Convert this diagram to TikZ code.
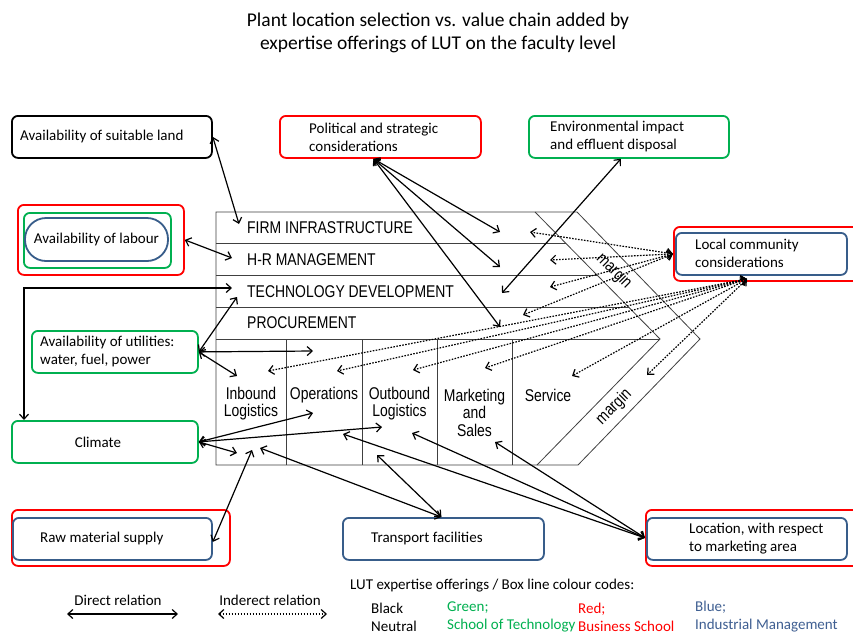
\documentclass[tikz,border=0pt]{standalone}
\usepackage{fontspec}
\setmainfont{Carlito}
\newfontfamily\vcfont[FakeStretch=0.82]{Liberation Sans}
\usetikzlibrary{arrows.meta,calc}
\definecolor{cRed}{RGB}{255,0,0}
\definecolor{cGreen}{RGB}{0,176,80}
\definecolor{cBlue}{RGB}{56,93,138}
\definecolor{cBlueT}{RGB}{63,95,146}
\begin{document}
\begin{tikzpicture}[x=1pt,y=-1pt,
  bx/.style={draw=#1, line width=1.8pt, rounded corners=6pt, anchor=north west, inner sep=0pt},
  txt/.style={font=\fontsize{15}{18}\selectfont, align=left, inner sep=0pt, anchor=west},
  lg/.style={font=\fontsize{15}{18}\selectfont, align=left, inner sep=0pt, anchor=west},
  dir/.style={line width=1.2pt, {Straight Barb[length=5pt,width=9pt]}-{Straight Barb[length=5pt,width=9pt]}},
  ind/.style={dir, dash pattern=on 1.6pt off 1.4pt},
  vc/.style={line width=0.8pt, draw=black!75},
  vcl/.style={font=\vcfont\fontsize{17}{17.5}\selectfont, align=center, inner sep=0pt},
  mg/.style={font=\vcfont\fontsize{17}{18}\selectfont, inner sep=0pt}
]
\clip (0,0) rectangle (853,635);
\fill[white] (0,0) rectangle (853,635);

% title
\node[font=\fontsize{19.5}{23}\selectfont, align=center] (title) at (438,33)
  {Plant location selection vs. value chain added by\\expertise offerings of LUT on the faculty level};

% value chain frame
\draw[vc] (216,212) -- (577,212) -- (700,339) -- (578,465) -- (216,465) -- cycle;
\draw[vc] (535,212) -- (660,339) -- (537,465);
\draw[vc] (216,243.5) -- (566,243.5);
\draw[vc] (216,275) -- (597,275);
\draw[vc] (216,307) -- (628.5,307);
\draw[vc] (216,339) -- (660,339);
\foreach \cx in {286,362,437,512} \draw[vc] (\cx,339) -- (\cx,465);

\node[vcl, anchor=west] (fi) at (247,228) {FIRM INFRASTRUCTURE};
\node[vcl, anchor=west] (hr) at (247,260) {H-R MANAGEMENT};
\node[vcl, anchor=west] (td) at (247,292) {TECHNOLOGY DEVELOPMENT};
\node[vcl, anchor=west] (pr) at (247,323) {PROCUREMENT};
\node[vcl] (ib) at (251,403.5) {Inbound\\Logistics};
\node[vcl] (op) at (324,395) {Operations};
\node[vcl] (ob) at (399.5,403.5) {Outbound\\Logistics};
\node[vcl] (mk) at (474.5,412.5) {Marketing\\and\\Sales};
\node[vcl] (sv) at (548,395) {Service};
\node[mg, rotate=-45] (m1) at (614,271) {margin};
\node[mg, rotate=45] (m2) at (614,407) {margin};

% boxes
\node[bx=black, minimum width=200pt, minimum height=42pt] (land) at (11,115) {};
\node[txt] (landT) at ([xshift=9pt]land.west) {Availability of suitable land};

\node[bx=cRed, minimum width=166pt, minimum height=70pt] (labR) at (17,204) {};
\node[bx=cGreen, minimum width=147pt, minimum height=55pt] (labG) at (23,212) {};
\node[draw=cBlue, line width=1.8pt, rounded corners=21pt, minimum width=143pt, minimum height=43pt, inner sep=0pt, font=\fontsize{15}{18}\selectfont] (lab) at (96.5,239.5) {Availability of labour};

\node[bx=cRed, minimum width=201pt, minimum height=42pt] (pol) at (279,115) {};
\node[txt] (polT) at ([xshift=30pt]pol.west) {Political and strategic\\considerations};

\node[bx=cGreen, minimum width=200pt, minimum height=42pt] (env) at (528,115) {};
\node[txt] (envT) at ([xshift=22pt]env.west) {Environmental impact\\and effluent disposal};

\node[bx=cRed, minimum width=200pt, minimum height=54pt] (comR) at (673,226) {};
\node[bx=cBlue, minimum width=171pt, minimum height=42pt] (com) at (675,232) {};
\node[txt] (comT) at ([xshift=20pt,yshift=1pt]com.west) {Local community\\considerations};

\node[bx=cGreen, minimum width=166pt, minimum height=42pt] (util) at (31,330) {};
\node[txt] (utilT) at ([xshift=9pt]util.west) {Availability of utilities:\\water, fuel, power};

\node[bx=cGreen, minimum width=186pt, minimum height=42pt] (clim) at (11,420) {};
\node[txt, anchor=center] (climT) at ([xshift=-7pt]clim.center) {Climate};

\node[bx=cRed, minimum width=218pt, minimum height=56pt] (rawR) at (11,509) {};
\node[bx=cBlue, minimum width=199pt, minimum height=42pt] (raw) at (12,517) {};
\node[txt] (rawT) at ([xshift=28pt]raw.west) {Raw material supply};

\node[bx=cBlue, minimum width=201pt, minimum height=42pt] (trans) at (342,517) {};
\node[txt] (transT) at ([xshift=29pt]trans.west) {Transport facilities};

\node[bx=cRed, minimum width=230pt, minimum height=56pt] (locR) at (645,509) {};
\node[bx=cBlue, minimum width=200pt, minimum height=42pt] (loc) at (646,517) {};
\node[txt] (locT) at ([xshift=43pt]loc.west) {Location, with respect\\to marketing area};

% arrow end points inside the value chain
\coordinate (fL) at (239,224);
\coordinate (hL) at (232,258);
\coordinate (tL) at (232,288);
\coordinate (fA) at (500,232);
\coordinate (hA) at (500,267);
\coordinate (pA) at (500,327);
\coordinate (tA) at (502,293);
\coordinate (tU) at (237,297);
\coordinate (opU) at (313,351);
\coordinate (inU) at (237,376);
\coordinate (opC) at (313,413);
\coordinate (obC) at (382,427);
\coordinate (inC) at (237,453);
\coordinate (inR) at (252,450);
\coordinate (inT) at (260,448);
\coordinate (obT) at (377,455);
\coordinate (opL) at (343,434);
\coordinate (obL) at (412,433);
\coordinate (mkL) at (495,442);
\coordinate (polS) at ([xshift=-7pt]pol.south);
\coordinate (envS) at ([xshift=-8pt]env.south);
\coordinate (comS) at (747,279);
\coordinate (climN) at ([xshift=13pt]clim.north west);
\coordinate (rawE) at ([yshift=-3pt]raw.east);
\coordinate (transN) at ([xshift=-2pt]trans.north);

% direct relations
\draw[dir] (land.east) -- (fL);
\draw[dir] (labR.east) -- (hL);
\draw[dir] (tL) -| (climN);
\draw[dir] (polS) -- (fA);
\draw[dir] (polS) -- (hA);
\draw[dir] (polS) -- (pA);
\draw[dir] (envS) -- (tA);
\draw[dir] (util.east) -- (tU);
\draw[dir] (util.east) -- (opU);
\draw[dir] (util.east) -- (inU);
\draw[dir] (clim.east) -- (opC);
\draw[dir] (clim.east) -- (obC);
\draw[dir] (clim.east) -- (inC);
\draw[dir] (rawE) -- (inR);
\draw[dir] (transN) -- (inT);
\draw[dir] (transN) -- (obT);
\draw[dir] (locR.west) -- (opL);
\draw[dir] (locR.west) -- (obL);
\draw[dir] (locR.west) -- (mkL);

% indirect relations
\foreach \p in {(530,232),(550,260),(550,287),(523,315)}
  \draw[ind] (comR.west) -- \p;
\foreach \p in {(268,371),(337,371),(413,370),(485,368),(572,376),(647,375)}
  \draw[ind] (comS) -- \p;

% legend
\node[lg, anchor=center] (dl) at (118,600) {Direct relation};
\node[lg, anchor=center] (il) at (270,600) {Inderect relation};
\coordinate (d1) at (67,614); \coordinate (d2) at (178,614);
\coordinate (i1) at (218,614); \coordinate (i2) at (327,614);
\draw[dir] (d1) -- (d2);
\draw[ind] (i1) -- (i2);
\node[lg] (lut) at (350,586) {LUT expertise offerings / Box line colour codes:};
\node[lg] (lb) at (371,617) {Black\\Neutral};
\node[lg, text=cGreen] (lgG) at (447,617) {Green;\\School of Technology};
\node[lg, text=cRed] (lgR) at (578,617) {Red;\\Business School};
\node[lg, text=cBlueT] (lgB) at (695,617) {Blue;\\Industrial Management};
\end{tikzpicture}
\end{document}
